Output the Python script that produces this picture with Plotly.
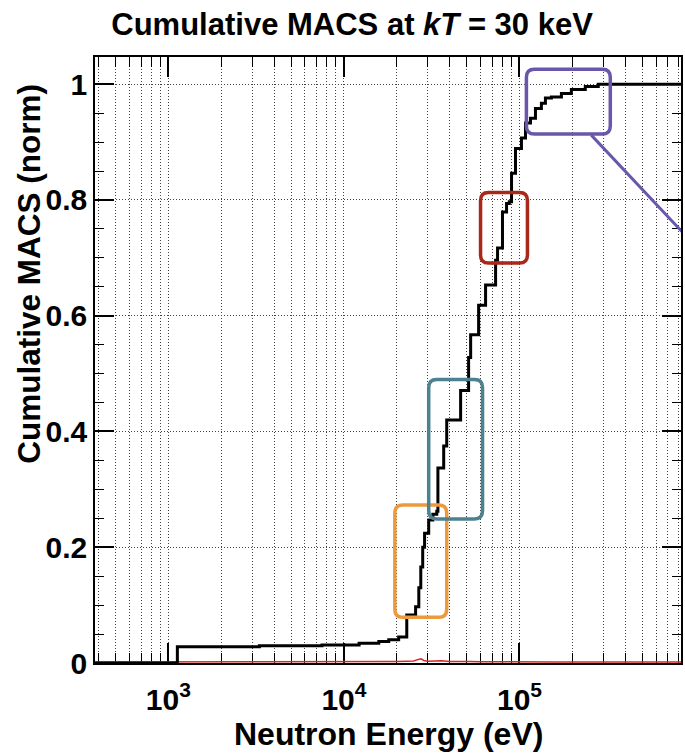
import plotly.graph_objects as go

# Cumulative MACS (normalised) at kT = 30 keV: energy (eV) where each new level starts
energy_ev = [380, 1125, 3300, 7500, 12200, 15800, 18000, 20500, 22800, 25600,
             26700, 27400, 28100, 28800, 30400, 32100, 33800, 34300, 37000, 38500,
             46200, 51300, 52700, 58500, 64100, 73100, 75000, 80000, 84400, 87500,
             90100, 94900, 102600, 108200, 115500, 123300, 133300, 140500, 152000,
             173300, 197400, 237000, 281000, 850000]
cumulative = [0.000, 0.028, 0.030, 0.031, 0.034, 0.037, 0.040, 0.045, 0.083, 0.097,
              0.130, 0.166, 0.200, 0.224, 0.247, 0.257, 0.262, 0.337, 0.375, 0.420,
              0.471, 0.528, 0.567, 0.618, 0.653, 0.696, 0.717, 0.779, 0.794, 0.797,
              0.846, 0.889, 0.907, 0.933, 0.941, 0.958, 0.967, 0.976, 0.978,
              0.984, 0.991, 0.996, 1.000, 1.000]

# Differential contribution (red curve near zero)
diff_energy = [380, 1000, 1500, 2500, 4000, 6000, 9000, 13000, 17000, 20000, 23000,
               25000, 26500, 27500, 28500, 30000, 33000, 36000, 40000, 45000, 52000,
               60000, 70000, 85000, 100000, 150000, 300000, 850000]
diff_value = [0.0016, 0.0016, 0.0019, 0.0016, 0.0020, 0.0018, 0.0022, 0.0018, 0.0024,
              0.0026, 0.0030, 0.0034, 0.0062, 0.0072, 0.0044, 0.0029, 0.0034, 0.0038,
              0.0026, 0.0030, 0.0026, 0.0022, 0.0019, 0.0018, 0.0016, 0.0016, 0.0016,
              0.0016]

# Axis tick labels
x_tickvals = [1e3, 1e4, 1e5]
x_ticktext = ["10<sup>3</sup>", "10<sup>4</sup>", "10<sup>5</sup>"]
x_minor_vals = [d * 10 ** p for p in range(2, 6) for d in range(2, 10)]

# Highlighted energy regions: (E_low, E_high, y_low, y_high, colour)
regions = [
    (19500, 38500, 0.079, 0.273, "#EC9A3C"),
    (30400, 61600, 0.249, 0.490, "#4B8190"),
    (60000, 111000, 0.691, 0.813, "#A8281A"),
    (109500, 329000, 0.914, 1.026, "#6A56AA"),
]
# Connector leaving the last region
connector = [(256500, 0.912), (850000, 0.744)]

FONT = "Liberation Sans, Arial, Helvetica, sans-serif"

fig = go.Figure()
fig.add_trace(go.Scatter(x=diff_energy, y=diff_value, mode="lines",
                         line=dict(color="#D8262A", width=1.5), hoverinfo="skip"))
fig.add_trace(go.Scatter(x=energy_ev, y=cumulative, mode="lines",
                         line=dict(color="black", width=3, shape="hv")))


def rounded_box(x0, x1, y0, y1, rx=1.11, ry=0.014):
    return (f"M {x0*rx},{y0} L {x1/rx},{y0} Q {x1},{y0} {x1},{y0+ry} "
            f"L {x1},{y1-ry} Q {x1},{y1} {x1/rx},{y1} "
            f"L {x0*rx},{y1} Q {x0},{y1} {x0},{y1-ry} "
            f"L {x0},{y0+ry} Q {x0},{y0} {x0*rx},{y0} Z")


for x0, x1, y0, y1, col in regions:
    fig.add_shape(type="path", xref="x", yref="y", path=rounded_box(x0, x1, y0, y1),
                  line=dict(color=col, width=3.5), layer="above")

fig.add_shape(type="line", xref="x", yref="y",
              x0=connector[0][0], y0=connector[0][1], x1=connector[1][0], y1=connector[1][1],
              line=dict(color=regions[-1][4], width=3), layer="above")

grid_dash = "1px,2px"
fig.update_xaxes(
    type="log", range=[2.582, 5.92],
    tickmode="array", tickvals=x_tickvals, ticktext=x_ticktext,
    ticks="inside", ticklen=20, tickwidth=1.5, tickcolor="black",
    showline=True, linecolor="black", linewidth=1.5, mirror="ticks",
    showgrid=True, gridcolor="#444", gridwidth=1, griddash=grid_dash,
    tickfont=dict(family=FONT, size=30, color="black", weight="bold"),
    ticklabelstandoff=9,
    minor=dict(tickmode="array", tickvals=x_minor_vals, ticks="inside", ticklen=10,
               tickwidth=1, tickcolor="black", showgrid=True, gridcolor="#444",
               gridwidth=1, griddash=grid_dash),
    zeroline=False, layer="below traces",
)
fig.update_yaxes(
    range=[0, 1.047], dtick=0.2, tick0=0,
    ticks="inside", ticklen=19, tickwidth=1.5, tickcolor="black",
    showline=True, linecolor="black", linewidth=1.5, mirror="ticks",
    showgrid=True, gridcolor="#444", gridwidth=1, griddash=grid_dash,
    tickfont=dict(family=FONT, size=30, color="black", weight="bold"),
    minor=dict(dtick=0.05, ticks="inside", ticklen=9, tickwidth=1, tickcolor="black",
               showgrid=False),
    zeroline=False, layer="below traces",
)

fig.add_annotation(text="Cumulative MACS (norm)", xref="paper", yref="paper",
                   x=-0.113, y=0.642, textangle=-90, showarrow=False,
                   xanchor="center", yanchor="middle",
                   font=dict(family=FONT, size=31.5, color="black", weight="bold"))
fig.add_annotation(text="Neutron Energy (eV)", xref="paper", yref="paper",
                   x=0.5, y=-0.117, showarrow=False, xanchor="center", yanchor="middle",
                   font=dict(family=FONT, size=32, color="black", weight="bold"))

fig.update_layout(
    width=685, height=756,
    margin=dict(l=95, r=2, t=57, b=93),
    paper_bgcolor="white", plot_bgcolor="white",
    showlegend=False,
    title=dict(text="Cumulative MACS at <i>kT</i> = 30 keV", x=0.514, xanchor="center",
               y=0.968, yanchor="middle",
               font=dict(family=FONT, size=31, color="black", weight="bold")),
)

fig.write_html("out.html")
